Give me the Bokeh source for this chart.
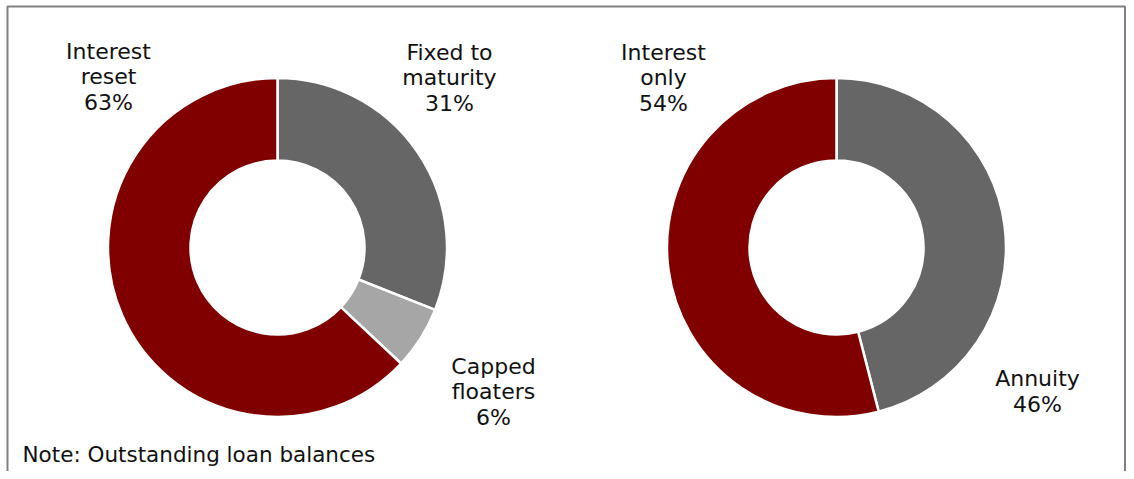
import numpy as np
from bokeh.plotting import figure
from bokeh.models import Range1d, ColumnDataSource
from bokeh.core.properties import value
from bokeh.embed import file_html
from bokeh.resources import INLINE

# ---- data ----
left_categories = ["Fixed to\nmaturity", "Capped\nfloaters", "Interest\nreset"]
left_values = [31, 6, 63]
left_colors = ["#666666", "#a6a6a6", "#800000"]

right_categories = ["Annuity", "Interest\nonly"]
right_values = [46, 54]
right_colors = ["#666666", "#800000"]

note_text = "Note: Outstanding loan balances"

# label anchor positions (layout)
left_label_x = [449, 493, 108]
left_label_y = [394, 80, 395]
right_label_x = [1037, 663]
right_label_y = [80, 394]

W, H = 1126, 471
p = figure(width=W, height=H, output_backend="svg", toolbar_location=None,
           x_range=Range1d(0, W), y_range=Range1d(0, H), min_border=0)
p.axis.visible = False
p.grid.visible = False
p.outline_line_color = None
p.background_fill_color = "white"

FONT = value("DejaVu Sans")

def donut(cx, cy, cats, vals, colors, lx, ly):
    vals = np.array(vals, dtype=float)
    frac = vals / vals.sum()
    cum = np.concatenate([[0], np.cumsum(frac)])
    start = np.pi / 2 - 2 * np.pi * cum[:-1]
    end = np.pi / 2 - 2 * np.pi * cum[1:]
    src = ColumnDataSource(dict(start=start, end=end, color=colors))
    p.annular_wedge(x=cx, y=cy, inner_radius=87, outer_radius=169.5,
                    inner_radius_units="screen", outer_radius_units="screen",
                    start_angle="start", end_angle="end", direction="clock",
                    fill_color="color", line_color="white", line_width=2.5,
                    source=src)
    labels = [f"{c}\n{int(v)}%" for c, v in zip(cats, vals)]
    lsrc = ColumnDataSource(dict(x=lx, y=ly, t=labels))
    p.text(x="x", y="y", text="t", source=lsrc, text_font=FONT,
           text_font_size="22px", text_align="center", text_baseline="middle",
           text_color="#111111", text_line_height=1.02)

donut(277, 224, left_categories, left_values, left_colors, left_label_x, left_label_y)
donut(836, 224, right_categories, right_values, right_colors, right_label_x, right_label_y)

# frame
p.multi_line(xs=[[7, 7, 1124.5, 1124.5]], ys=[[-20, 465, 465, -20]],
             line_color="#808080", line_width=2)

p.text(x=[22], y=[17], text=[note_text], text_font=FONT, text_font_size="21.5px",
       text_align="left", text_baseline="alphabetic", text_color="#111111")

open("out.html", "w").write(file_html(p, INLINE))
